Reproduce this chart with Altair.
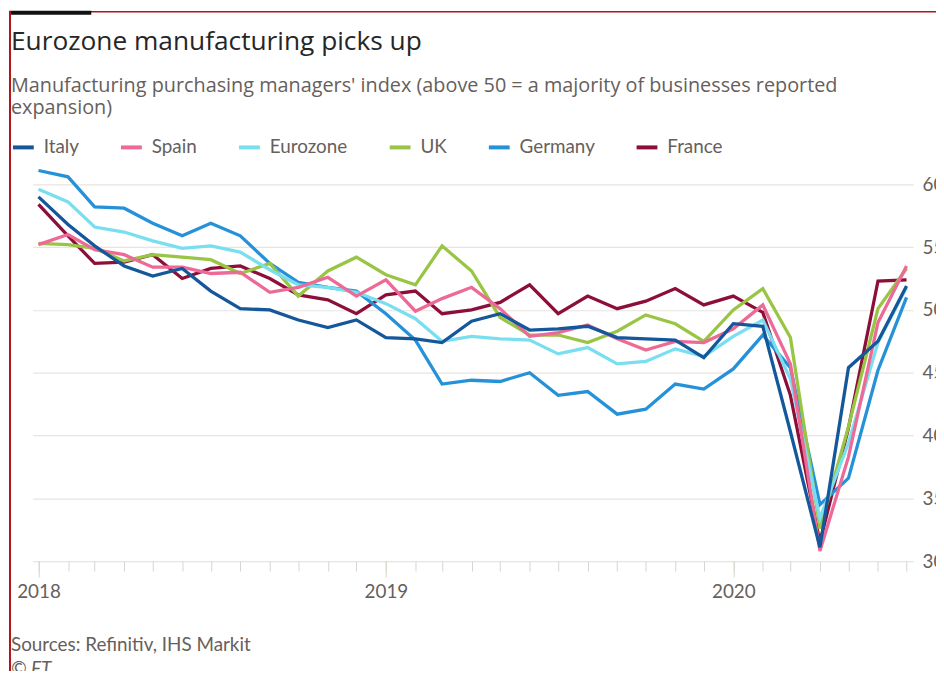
import altair as alt
import pandas as pd

# ---- data (monthly manufacturing PMI, Jan 2018 - Jul 2020) ----
months = [f"{y}-{m:02d}-01" for y in (2018, 2019, 2020) for m in range(1, 13)][:31]

italy = [59.0, 56.8, 55.1, 53.5, 52.7, 53.3, 51.5, 50.1, 50.0, 49.2, 48.6, 49.2,
         47.8, 47.7, 47.4, 49.1, 49.7, 48.4, 48.5, 48.7, 47.8, 47.7, 47.6, 46.2,
         48.9, 48.7, 40.3, 31.1, 45.4, 47.5, 51.9]
spain = [55.2, 56.0, 54.8, 54.4, 53.4, 53.4, 52.9, 53.0, 51.4, 51.8, 52.6, 51.1,
         52.4, 49.9, 50.9, 51.8, 50.1, 47.9, 48.2, 48.8, 47.7, 46.8, 47.5, 47.4,
         48.5, 50.4, 45.7, 30.8, 38.3, 49.0, 53.5]
eurozone = [59.6, 58.6, 56.6, 56.2, 55.5, 54.9, 55.1, 54.6, 53.2, 52.0, 51.8, 51.4,
            50.5, 49.3, 47.5, 47.9, 47.7, 47.6, 46.5, 47.0, 45.7, 45.9, 46.9, 46.3,
            47.9, 49.2, 44.5, 33.4, 39.4, 47.4, 51.8]
uk = [55.3, 55.2, 54.9, 53.9, 54.4, 54.2, 54.0, 52.9, 53.7, 51.1, 53.1, 54.2,
      52.8, 52.0, 55.1, 53.1, 49.4, 48.0, 48.0, 47.4, 48.3, 49.6, 48.9, 47.5,
      50.0, 51.7, 47.8, 32.6, 40.7, 50.1, 53.3]
germany = [61.1, 60.6, 58.2, 58.1, 56.9, 55.9, 56.9, 55.9, 53.7, 52.2, 51.8, 51.5,
           49.7, 47.6, 44.1, 44.4, 44.3, 45.0, 43.2, 43.5, 41.7, 42.1, 44.1, 43.7,
           45.3, 48.0, 45.4, 34.5, 36.6, 45.2, 51.0]
france = [58.4, 55.9, 53.7, 53.8, 54.4, 52.5, 53.3, 53.5, 52.5, 51.2, 50.8, 49.7,
          51.2, 51.5, 49.7, 50.0, 50.6, 52.0, 49.7, 51.1, 50.1, 50.7, 51.7, 50.4,
          51.1, 49.8, 43.2, 31.5, 40.6, 52.3, 52.4]

legend_order = ["Italy", "Spain", "Eurozone", "UK", "Germany", "France"]
colors = ["#14579b", "#ee6a96", "#79dff0", "#98c544", "#2591d8", "#8c0f3a"]
year_ticks = [2018, 2019, 2020]
y_ticks = [30, 35, 40, 45, 50, 55, 60]

title_text = "Eurozone manufacturing picks up"
subtitle_text = ("Manufacturing purchasing managers' index (above 50 = a majority of businesses reported\n"
                 "expansion)")
source_text = "Sources: Refinitiv, IHS Markit"
credit_text = "\u00a9 FT"

# draw order: Italy last (on top)
series = {"France": france, "Germany": germany, "UK": uk,
          "Eurozone": eurozone, "Spain": spain, "Italy": italy}
rows = []
for name, vals in series.items():
    for d, v in zip(months, vals):
        rows.append({"date": d, "country": name, "pmi": v})
df = pd.DataFrame(rows)
df_months = pd.DataFrame({"date": months})

FONT = "Lato"
HEAD_FONT = "Open Sans"
GREY = "#66605c"
GRID = "#e9e4df"

x_scale = alt.Scale(type="utc", domain=[alt.DateTime(year=2017, month=12, date=26, utc=True),
                                        alt.DateTime(year=2020, month=7, date=8, utc=True)])

year_axis = alt.Axis(orient="bottom", title=None, grid=False, domain=False,
                     values=[alt.DateTime(year=y, month=1, date=1, utc=True) for y in year_ticks],
                     format="%Y", tickSize=16, tickColor="#d9d3cd", tickWidth=1,
                     labelFont=FONT, labelFontSize=19, labelColor=GREY, labelPadding=6)
month_axis = alt.Axis(orient="bottom", title=None, grid=False, domain=False, labels=False,
                      values=[alt.DateTime(year=int(m[:4]), month=int(m[5:7]), date=1, utc=True) for m in months],
                      tickSize=10, tickColor="#d9d3cd", tickWidth=1)
y_axis = alt.Axis(orient="right", title=None, values=y_ticks, grid=True, gridColor=GRID, gridWidth=1.2,
                  domain=False, ticks=False, tickSize=0, labelPadding=9,
                  labelFont=FONT, labelFontSize=19, labelColor=GREY)

lines = alt.Chart(df).mark_line(strokeWidth=3.3).encode(
    x=alt.X("date:T", scale=x_scale, axis=year_axis),
    y=alt.Y("pmi:Q", scale=alt.Scale(domain=[30, 60], nice=False, zero=False), axis=y_axis),
    color=alt.Color("country:N", sort=legend_order,
                    scale=alt.Scale(domain=legend_order, range=colors),
                    legend=alt.Legend(orient="none", legendX=-22, legendY=-50, direction="horizontal",
                                      title=None, symbolType="stroke", symbolStrokeWidth=4,
                                      symbolSize=441, labelFont=FONT, labelFontSize=19,
                                      labelColor=GREY, labelOffset=8, columnPadding=34, padding=0)),
)

month_layer = alt.Chart(df_months).mark_point(opacity=0).encode(
    x=alt.X("date:T", scale=x_scale, axis=month_axis),
)


def text(t, x, y, size, color, font=FONT, style="normal"):
    return alt.Chart(pd.DataFrame({"t": [t]})).mark_text(
        align="left", baseline="alphabetic", font=font, fontSize=size, color=color, fontStyle=style,
        lineBreak="\n", lineHeight=21.7
    ).encode(text="t:N", x=alt.value(x), y=alt.value(y))


def rule(x, x2, y, y2, color, w):
    return alt.Chart(pd.DataFrame({"k": [0]})).mark_rule(color=color, strokeWidth=w).encode(
        x=alt.value(x), x2=alt.value(x2), y=alt.value(y), y2=alt.value(y2))


texts = [
    text(title_text, -22, -136, 26.5, "#262626", HEAD_FONT),
    text(subtitle_text, -22, -93, 20, GREY, HEAD_FONT),
    text(source_text, -22, 471, 19, GREY),
    text(credit_text, -22, 495, 19, GREY, FONT, "italic"),
]
frame = [
    rule(-23, -23, -175, 500, "#b3121b", 2),
    rule(-23, 920, -174, -174, "#b3121b", 1.5),
    rule(-22, 59, -173, -173, "#111111", 4),
]

chart = alt.layer(lines, month_layer, *texts, *frame).resolve_axis(x="independent").properties(
    width=888, height=380,
    autosize=alt.AutoSizeParams(type="none"),
    padding={"left": 25, "top": 175, "right": 23, "bottom": 108},
).configure_view(stroke=None)

chart.save("out.html", embed_options={"renderer": "svg", "actions": False})
